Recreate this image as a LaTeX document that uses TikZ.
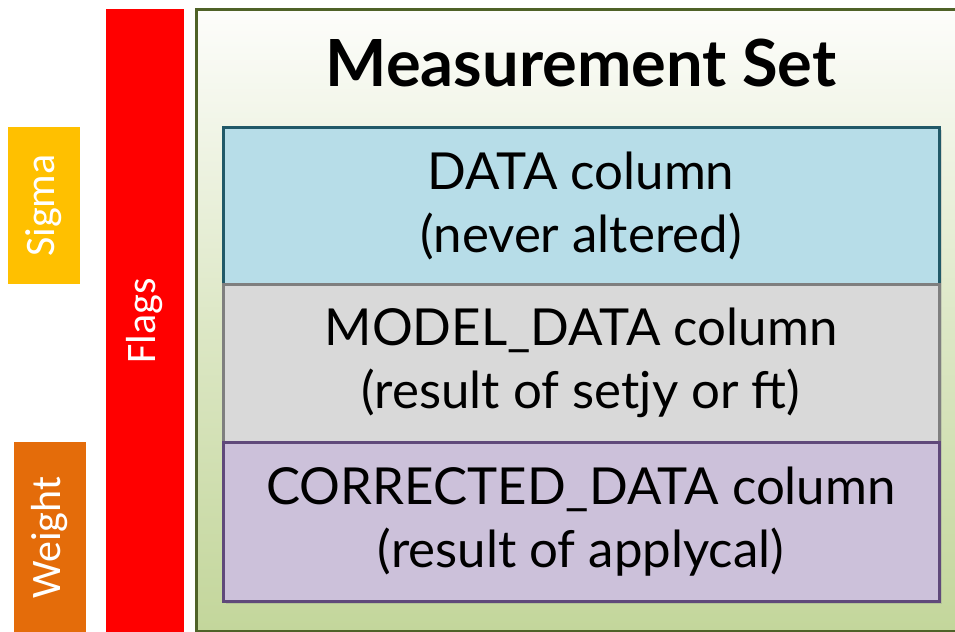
\documentclass[tikz,border=0pt]{standalone}
\usepackage{fontspec}
\setmainfont{Lato}
\newfontfamily\sidefont{Carlito}
\usetikzlibrary{shadows}

\definecolor{sigmacol}{HTML}{FFC000}
\definecolor{weightcol}{HTML}{E46C0A}
\definecolor{flagcol}{HTML}{FF0000}
\definecolor{msborder}{HTML}{4F6228}
\definecolor{mstop}{HTML}{FDFDFB}
\definecolor{msbottom}{HTML}{C3D69B}
\definecolor{datafill}{HTML}{B7DDE8}
\definecolor{databorder}{HTML}{215968}
\definecolor{modelfill}{HTML}{D9D9D9}
\definecolor{modelborder}{HTML}{7F7F7F}
\definecolor{corrfill}{HTML}{CCC1DA}
\definecolor{corrborder}{HTML}{5F497A}

\tikzset{
  sidebar/.style={fill=#1, rotate=90, inner sep=0pt, outer sep=0pt,
    text=white, font=\sidefont\fontsize{21}{24}\selectfont},
  colbox/.style 2 args={draw=#2, fill=#1, line width=1.5pt,
    minimum width=358pt, inner sep=0pt, outer sep=0pt, align=center,
    font=\fontsize{25.5}{31.5}\selectfont,
    drop shadow={opacity=0.25, shadow xshift=1.5pt, shadow yshift=-1.5pt}},
}

\begin{document}
\begin{tikzpicture}[x=0.5pt, y=-0.5pt]
    \clip (0,0) rectangle (955,632);
    % side bars
    \node[sidebar=sigmacol, minimum width=78.5pt, minimum height=36pt] (sigma) at (44,205.5) {Sigma};
    \node[sidebar=weightcol, minimum width=95.5pt, minimum height=36pt] (weight) at (50,537.5) {Weight};
    \node[sidebar=flagcol, minimum width=312pt, minimum height=39pt] (flags) at (145,321) {Flags};
    % measurement set
    \node[draw=msborder, line width=1.5pt, top color=mstop, bottom color=msbottom,
          middle color=msbottom!55!mstop,
          minimum width=383pt, minimum height=311pt, inner sep=0pt] (ms) at (579,320) {};
    \node[anchor=base, font=\fontsize{32.5}{36}\selectfont\bfseries] (title) at (581,86) {Measurement Set};
    % columns
    \node[colbox={datafill}{databorder}, minimum height=78.5pt] (data) at (581,205.5)
        {DATA column\\(never altered)};
    \node[colbox={modelfill}{modelborder}, minimum height=79pt] (model) at (581,363)
        {MODEL\_DATA column\\(result of setjy or ft)};
    \node[colbox={corrfill}{corrborder}, minimum height=79.5pt] (corrected) at (581,521.5)
        {CORRECTED\_DATA column\\(result of applycal)};
\end{tikzpicture}
\end{document}
